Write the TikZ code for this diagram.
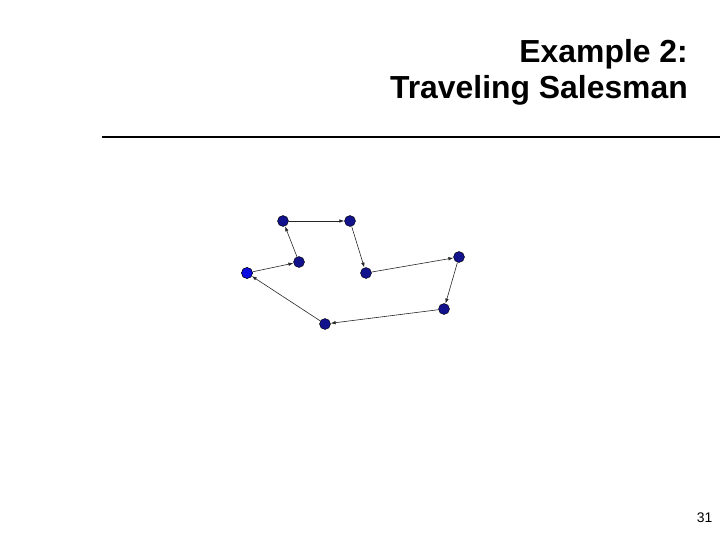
\documentclass[tikz,border=0pt]{standalone}
\usepackage{fontspec}
\setmainfont{Liberation Sans}
\usetikzlibrary{arrows.meta}
\definecolor{citycol}{RGB}{18,18,140}
\definecolor{startcol}{RGB}{12,12,225}
\tikzset{
    city/.style={circle, draw=black, line width=0.4pt, fill=citycol, minimum size=11bp, inner sep=0pt},
    tour/.style={-{Latex[length=5bp, width=3.5bp]}, draw=black!85, line width=0.6pt},
}
\begin{document}
\begin{tikzpicture}[x=1bp, y=-1bp]
    \useasboundingbox (0,0) rectangle (720,540);
    % Title and rule
    \node[anchor=base east, font=\bfseries\fontsize{32}{36}\selectfont, inner sep=0pt] (title1) at (688,62.5) {Example 2:};
    \node[anchor=base east, font=\bfseries\fontsize{32}{36}\selectfont, inner sep=0pt] (title2) at (688,99) {Traveling Salesman};
    \draw[line width=2bp] (102,137.5) -- (720,137.5);
    % Cities, in tour order
    \foreach \i/\x/\y in {1/247/273, 2/299/262, 3/283/221, 4/350/221, 5/366/273, 6/459/257, 7/444/309, 8/325/324} {
        \node[city] (v\i) at (\x,\y) {};
    }
    \node[city, fill=startcol] at (v1) {};
    % Tour edges
    \foreach \i/\j in {1/2, 2/3, 3/4, 4/5, 5/6, 6/7, 7/8, 8/1} {
        \draw[tour] (v\i) -- (v\j);
    }
    % Slide number
    \node[anchor=base east, font=\fontsize{14}{16}\selectfont, inner sep=0pt] (pagenum) at (712.5,522) {31};
\end{tikzpicture}
\end{document}
